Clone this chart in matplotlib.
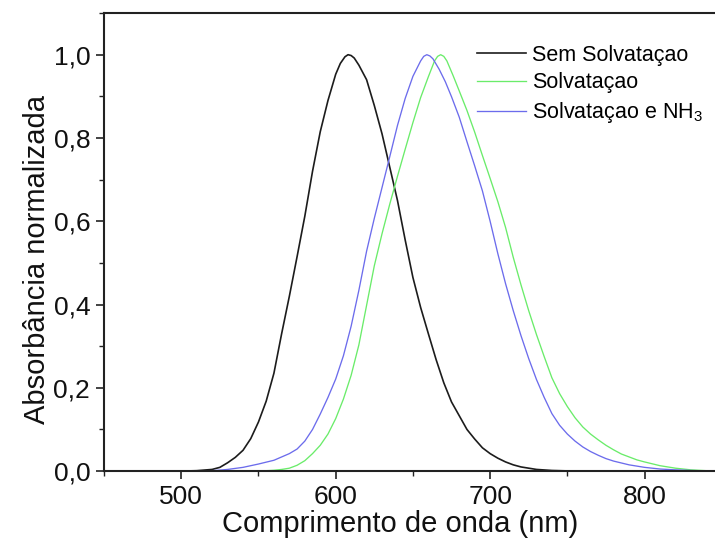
#!/usr/bin/env python3
"""Normalised absorbance spectra: gas phase vs solvated vs solvated + NH3."""

import matplotlib

matplotlib.use("Agg")
import matplotlib.pyplot as plt
from matplotlib.ticker import MultipleLocator

plt.rcParams["font.family"] = ["Liberation Sans", "DejaVu Sans"]
plt.rcParams["mathtext.default"] = "regular"

# values
wl_sem = [450, 500, 510, 520, 525, 530, 535, 540, 545, 550, 555, 560, 565, 570, 575,
          580, 585, 590, 595, 600, 603, 606, 608, 610, 612, 615, 620, 625, 630, 635,
          640, 645, 650, 655, 660, 665, 670, 675, 680, 685, 690, 695, 700, 705, 710,
          715, 720, 725, 730, 740, 750, 760, 850]
abs_sem = [0.0, 0.0, 0.001, 0.004, 0.009, 0.02, 0.033, 0.05, 0.078, 0.118, 0.168, 0.235,
           0.33, 0.42, 0.515, 0.612, 0.72, 0.815, 0.89, 0.953, 0.979, 0.995, 1.0, 0.998,
           0.992, 0.975, 0.94, 0.878, 0.81, 0.73, 0.65, 0.555, 0.465, 0.393, 0.33,
           0.268, 0.212, 0.166, 0.133, 0.1, 0.077, 0.056, 0.042, 0.031, 0.022, 0.015,
           0.01, 0.007, 0.004, 0.0015, 0.0005, 0.0, 0.0]

wl_solv = [450, 550, 560, 565, 570, 575, 580, 585, 590, 595, 600, 605, 610, 615, 620,
           625, 630, 635, 640, 645, 650, 655, 660, 664, 666, 668, 670, 672, 676, 680,
           685, 690, 695, 700, 705, 710, 715, 720, 725, 730, 735, 740, 745, 750, 755,
           760, 765, 770, 775, 780, 785, 790, 795, 800, 810, 820, 830, 840, 850]
abs_solv = [0.0, 0.0, 0.002, 0.004, 0.007, 0.014, 0.025, 0.042, 0.062, 0.089, 0.126, 0.173,
            0.23, 0.303, 0.398, 0.493, 0.57, 0.641, 0.708, 0.773, 0.837, 0.897, 0.947,
            0.985, 0.996, 1.0, 0.996, 0.985, 0.95, 0.913, 0.866, 0.814, 0.758, 0.703,
            0.647, 0.585, 0.513, 0.447, 0.385, 0.328, 0.275, 0.224, 0.186, 0.155, 0.128,
            0.106, 0.089, 0.075, 0.062, 0.051, 0.041, 0.034, 0.027, 0.022, 0.013,
            0.007, 0.003, 0.001, 0.0]

wl_nh3 = [450, 510, 520, 530, 540, 550, 560, 570, 575, 580, 585, 590, 595, 600, 605,
          610, 615, 620, 625, 630, 635, 640, 645, 650, 655, 657, 659, 661, 663, 667,
          671, 675, 680, 685, 690, 695, 700, 705, 710, 715, 720, 725, 730, 735, 740,
          745, 750, 755, 760, 765, 770, 775, 780, 790, 800, 810, 820, 830, 840, 850]
abs_nh3 = [0.0, 0.0, 0.001, 0.004, 0.009, 0.017, 0.026, 0.042, 0.053, 0.072, 0.1, 0.137,
           0.177, 0.221, 0.277, 0.348, 0.434, 0.528, 0.607, 0.681, 0.755, 0.83, 0.895,
           0.948, 0.985, 0.996, 1.0, 0.997, 0.99, 0.965, 0.935, 0.899, 0.85, 0.791,
           0.733, 0.673, 0.6, 0.522, 0.45, 0.385, 0.325, 0.27, 0.22, 0.177, 0.138,
           0.11, 0.089, 0.072, 0.058, 0.047, 0.038, 0.03, 0.024, 0.015, 0.009, 0.005,
           0.003, 0.0015, 0.0005, 0.0]

labels = ["Sem Solvataçao", "Solvataçao", "Solvataçao e NH$_3$"]
colors = ["#1c1c1c", "#6aec6a", "#6c6cec"]
ytick_vals = [0.0, 0.2, 0.4, 0.6, 0.8, 1.0]
ytick_text = ["0,0", "0,2", "0,4", "0,6", "0,8", "1,0"]


def main():
    fig = plt.figure(figsize=(7.15, 5.44), dpi=100)
    # axes run past the right edge of the picture, as in the reference crop
    ax = fig.add_axes([0.1455, 0.134, 0.864, 0.842])

    ax.plot(wl_sem, abs_sem, color=colors[0], lw=1.2, label=labels[0])
    ax.plot(wl_solv, abs_solv, color=colors[1], lw=0.95, label=labels[1])
    ax.plot(wl_nh3, abs_nh3, color=colors[2], lw=0.95, label=labels[2])

    ax.set_xlim(450, 850)
    ax.set_ylim(0, 1.1)
    ax.set_xticks([500, 600, 700, 800])
    ax.xaxis.set_minor_locator(MultipleLocator(50))
    ax.set_yticks(ytick_vals)
    ax.set_yticklabels(ytick_text)
    ax.yaxis.set_minor_locator(MultipleLocator(0.1))

    ax.tick_params(which="major", direction="out", length=6, width=1.2,
                   labelsize=19, colors="#222222", pad=4)
    ax.tick_params(which="minor", direction="out", length=3.5, width=1.0,
                   colors="#222222")
    ax.tick_params(labelcolor="#111111")
    for side in ["left", "bottom", "top", "right"]:
        ax.spines[side].set_linewidth(1.5)
        ax.spines[side].set_color("#222222")

    ax.set_xlabel("Comprimento de onda (nm)", fontsize=21, color="#111111", va="top")
    ax.xaxis.set_label_coords(0.479, -0.085)
    ax.set_ylabel("Absorbância normalizada", fontsize=21, color="#111111")
    ax.yaxis.set_label_coords(-0.086, 0.461)

    ax.legend(loc="upper left", bbox_to_anchor=(0.667, 0.918), bbox_transform=fig.transFigure,
              frameon=False, fontsize=15.5, handlelength=2.3, handletextpad=0.25,
              labelspacing=0.32, borderaxespad=0, borderpad=0)

    fig.savefig("out.png", dpi=100)
    plt.close(fig)


if __name__ == "__main__":
    main()
